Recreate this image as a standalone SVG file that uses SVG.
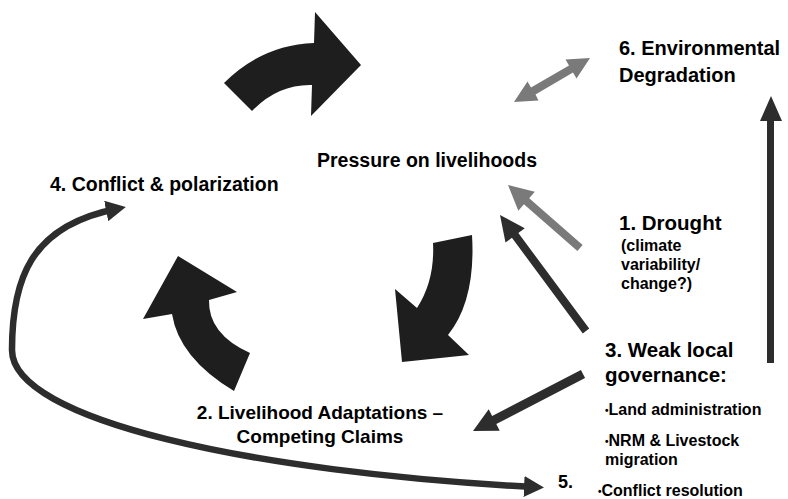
<svg xmlns="http://www.w3.org/2000/svg" width="788" height="499" viewBox="0 0 788 499">
  <defs>
    <style>
      text { font-family: "Liberation Sans", Arial, Helvetica, sans-serif; font-weight: bold; fill: #000; }
      .big { font-size: 20px; }
      .mid { font-size: 19.5px; }
      .small { font-size: 16px; }
      .dot { font-size: 10px; }
      .cycle { fill: #1e1e1e; }
      .dark { fill: #2d2d2d; }
      .grey { fill: #7a7a7a; }
      .link { fill: none; stroke: #2d2d2d; stroke-width: 6.5; }
    </style>
    <marker id="tip" markerUnits="userSpaceOnUse" viewBox="0 0 20 21" markerWidth="20" markerHeight="21" refX="10" refY="10.5" orient="auto-start-reverse">
      <path d="M0,0 L20,10.5 L0,21 Z" fill="#2d2d2d"/>
    </marker>
  </defs>

  <!-- connectors: the feedback cycle and the straight / curved links -->
  <g id="connectors">
    <!-- cycle arrow: top, pointing right -->
    <path class="cycle" d="M224,83 Q262,45 314,43 L315,12 L361,65 L311,116 L312,85 Q278,84 252,111 Z"/>
    <!-- cycle arrow: right, pointing down-left -->
    <path class="cycle" d="M433,243 L472,235 Q476,300 448,335 L469,355 L402,362 L395,289 L417,308 Q435,280 433,243 Z"/>
    <!-- cycle arrow: left, pointing up -->
    <path class="cycle" d="M178,256 L237,292 L209,300 Q208,334 250,353 L234,391 Q179,358 172,314 L143,319 Z"/>

    <!-- double arrow between pressure and environmental degradation -->
    <path class="grey" d="M514,102 L538.5,100.5 L535.5,94.5 L573,72.5 L576.5,78.5 L590,58 L565.5,59.5 L569,65.5 L531,87.5 L527.5,81.5 Z"/>

    <!-- drought to pressure (grey) -->
    <path class="grey" transform="translate(580,248) rotate(221.2)" d="M0,-4 L71,-4 L71,-12.5 L95.7,0 L71,12.5 L71,4 L0,4 Z"/>
    <!-- governance to pressure -->
    <path class="dark" transform="translate(586,331) rotate(233.45)" d="M0,-4 L119,-4 L119,-12 L144.4,0 L119,12 L119,4 L0,4 Z"/>
    <!-- governance to livelihood adaptations -->
    <path class="dark" transform="translate(583,374) rotate(152.6)" d="M0,-4.5 L100,-4.5 L100,-12 L123.9,0 L100,12 L100,4.5 L0,4.5 Z"/>
    <!-- governance up to environmental degradation -->
    <path class="dark" d="M767,363 L767,121 L760,121 L771,96 L782,121 L774,121 L774,363 Z"/>

    <!-- conflict resolution loop linking 5 and 4 -->
    <path class="link" d="M534,487 C250,472 12,420 12,350 C12,280 30,226 116,209" marker-start="url(#tip)" marker-end="url(#tip)"/>
  </g>

  <g id="pressure">
    <text class="mid" x="317" y="167">Pressure on livelihoods</text>
  </g>

  <g id="node-6">
    <text class="big" x="619" y="55">6. Environmental</text>
    <text class="big" x="619" y="82">Degradation</text>
  </g>

  <g id="node-4">
    <text class="mid" x="50" y="191">4. Conflict &amp; polarization</text>
  </g>

  <g id="node-1">
    <text class="big" x="619" y="230" style="font-size:20.5px">1. Drought</text>
    <text class="small" x="621" y="251">(climate</text>
    <text class="small" x="621" y="270">variability/</text>
    <text class="small" x="621" y="289">change?)</text>
  </g>

  <g id="node-3">
    <text class="big" x="605" y="357" style="font-size:20.5px">3. Weak local</text>
    <text class="big" x="605" y="382" style="font-size:20.5px">governance:</text>
    <text class="small" x="605" y="415"><tspan class="dot" dy="-1.5">•</tspan><tspan dy="1.5">Land administration</tspan></text>
    <text class="small" x="605" y="446"><tspan class="dot" dy="-1.5">•</tspan><tspan dy="1.5">NRM &amp; Livestock</tspan></text>
    <text class="small" x="605" y="465">migration</text>
  </g>

  <g id="node-5">
    <text x="558" y="488" style="font-size:18px">5.</text>
    <text class="small" x="598" y="496"><tspan class="dot" dy="-1.5">•</tspan><tspan dy="1.5">Conflict resolution</tspan></text>
  </g>

  <g id="node-2">
    <text class="mid" x="320" y="419" text-anchor="middle" style="font-size:19px">2. Livelihood Adaptations –</text>
    <text class="mid" x="320" y="443" text-anchor="middle" style="font-size:19px">Competing Claims</text>
  </g>
</svg>
